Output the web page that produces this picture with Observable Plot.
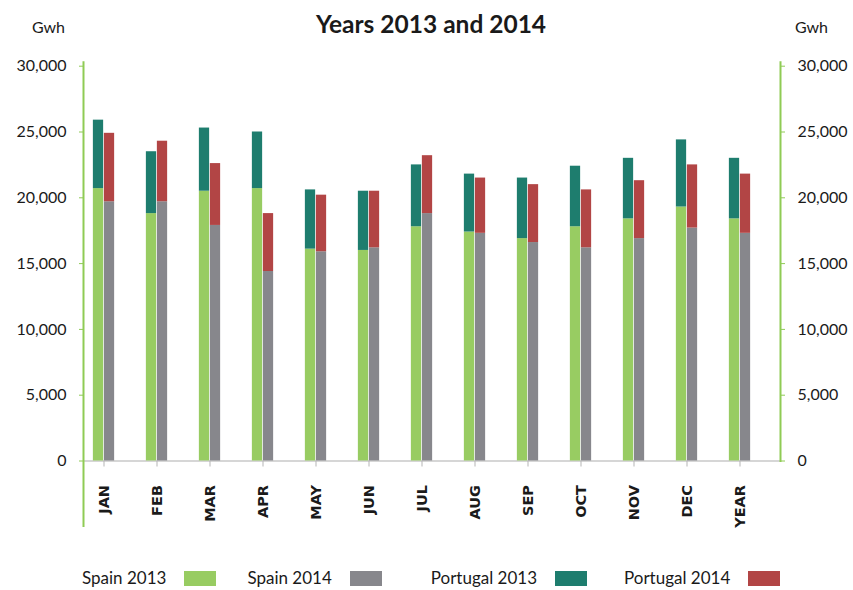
<!DOCTYPE html>
<html>
<head>
<meta charset="utf-8">
<script src="https://cdn.jsdelivr.net/npm/d3@7"></script>
<script src="https://cdn.jsdelivr.net/npm/@observablehq/plot@0.6"></script>
<style>
  body { margin: 0; background: #fff; font-family: Lato, sans-serif; color: #1a1a1a; }
  #wrap { position: relative; width: 853px; height: 590px; overflow: hidden; background: #fff; }
  #head { position: relative; height: 45px; }
  #title { position: absolute; left: 9px; right: 0; top: 9px; text-align: center; font-weight: 700; font-size: 24.5px; line-height: 1.2; }
  .gwh { position: absolute; top: 17px; font-size: 16px; line-height: 1.2; }
  #chart svg { display: block; }
  #legend { position: relative; height: 35px; display: flex; align-items: center; padding-top: 12px; box-sizing: border-box; font-size: 17px; line-height: 1.2; }
  .item { display: flex; align-items: center; }
  .sw { width: 32px; height: 15px; margin-left: 18px; }
</style>
</head>
<body>
<div id="wrap">
  <div id="head">
    <div id="title">Years 2013 and 2014</div>
    <div class="gwh" style="left:32px">Gwh</div>
    <div class="gwh" style="left:795px">Gwh</div>
  </div>
  <div id="chart"></div>
  <div id="legend"></div>
</div>
<script>
// ---- data (GWh) ----
const months = ["JAN","FEB","MAR","APR","MAY","JUN","JUL","AUG","SEP","OCT","NOV","DEC","YEAR"];
const spain2013    = [20700, 18800, 20500, 20700, 16100, 16000, 17800, 17400, 16900, 17800, 18400, 19300, 18400];
const portugal2013 = [ 5200,  4700,  4800,  4300,  4500,  4500,  4700,  4400,  4600,  4600,  4600,  5100,  4600];
const spain2014    = [19700, 19700, 17900, 14400, 15900, 16200, 18800, 17300, 16600, 16200, 16900, 17700, 17300];
const portugal2014 = [ 5200,  4600,  4700,  4400,  4300,  4300,  4400,  4200,  4400,  4400,  4400,  4800,  4500];
const yTicks = [0, 5000, 10000, 15000, 20000, 25000, 30000];
const seriesNames = ["Spain 2013", "Spain 2014", "Portugal 2013", "Portugal 2014"];
const seriesColors = ["#98cc62", "#87878c", "#1e7d6e", "#b24545"];

const axisGreen = "#8fcb55";

const rows2013 = [];
const rows2014 = [];
months.forEach((m, i) => {
  rows2013.push({month: m, series: "Spain 2013", value: spain2013[i]});
  rows2013.push({month: m, series: "Portugal 2013", value: portugal2013[i]});
  rows2014.push({month: m, series: "Spain 2014", value: spain2014[i]});
  rows2014.push({month: m, series: "Portugal 2014", value: portugal2014[i]});
});

const xRange = [72.4, 770.9];
const half = (xRange[1] - xRange[0]) / months.length / 2;
const barW = 11;

const chart = Plot.plot({
  width: 853,
  height: 510,
  marginLeft: 83,
  marginRight: 73,
  marginTop: 20.7,
  marginBottom: 94.5,
  style: {fontFamily: "Lato, sans-serif", fontSize: "16px", color: "#1a1a1a", background: "#fff"},
  x: {domain: months, range: xRange, padding: 0},
  y: {domain: [0, 30000]},
  color: {domain: seriesNames, range: seriesColors},
  marks: [
    Plot.ruleY([0], {stroke: "#c9c9c9", strokeWidth: 1.5}),
    Plot.barY(rows2013, {x: "month", y: "value", fill: "series", insetLeft: half - barW, insetRight: half}),
    Plot.barY(rows2014, {x: "month", y: "value", fill: "series", insetLeft: half, insetRight: half - barW}),
    Plot.axisX({tickRotate: -90, tickSize: 6, tickPadding: 18, stroke: "#b5b5b5", fill: "#1a1a1a",
                fontFamily: "DejaVu Sans", fontWeight: 600, fontSize: 14.5, label: null}),
    Plot.axisY({anchor: "left", ticks: yTicks, tickFormat: d3.format(","), tickSize: 4, tickPadding: 13,
                stroke: axisGreen, fill: "#1a1a1a", label: null}),
    Plot.axisY({anchor: "right", ticks: yTicks, tickFormat: d3.format(","), tickSize: 4, tickPadding: 13,
                stroke: axisGreen, fill: "#1a1a1a", label: null}),
    Plot.frame({anchor: "left", stroke: axisGreen, strokeWidth: 2, insetTop: -4, insetBottom: -65}),
    Plot.frame({anchor: "right", stroke: axisGreen, strokeWidth: 2, insetTop: -4})
  ]
});
document.getElementById("chart").appendChild(chart);

// legend
const legend = document.getElementById("legend");
const itemLeft = [82, 31, 49, 37];
seriesNames.forEach((name, i) => {
  const it = document.createElement("div");
  it.className = "item";
  it.style.marginLeft = itemLeft[i] + "px";
  const t = document.createElement("span");
  t.textContent = name;
  const s = document.createElement("span");
  s.className = "sw";
  s.style.background = seriesColors[i];
  it.appendChild(t);
  it.appendChild(s);
  legend.appendChild(it);
});
</script>
</body>
</html>
